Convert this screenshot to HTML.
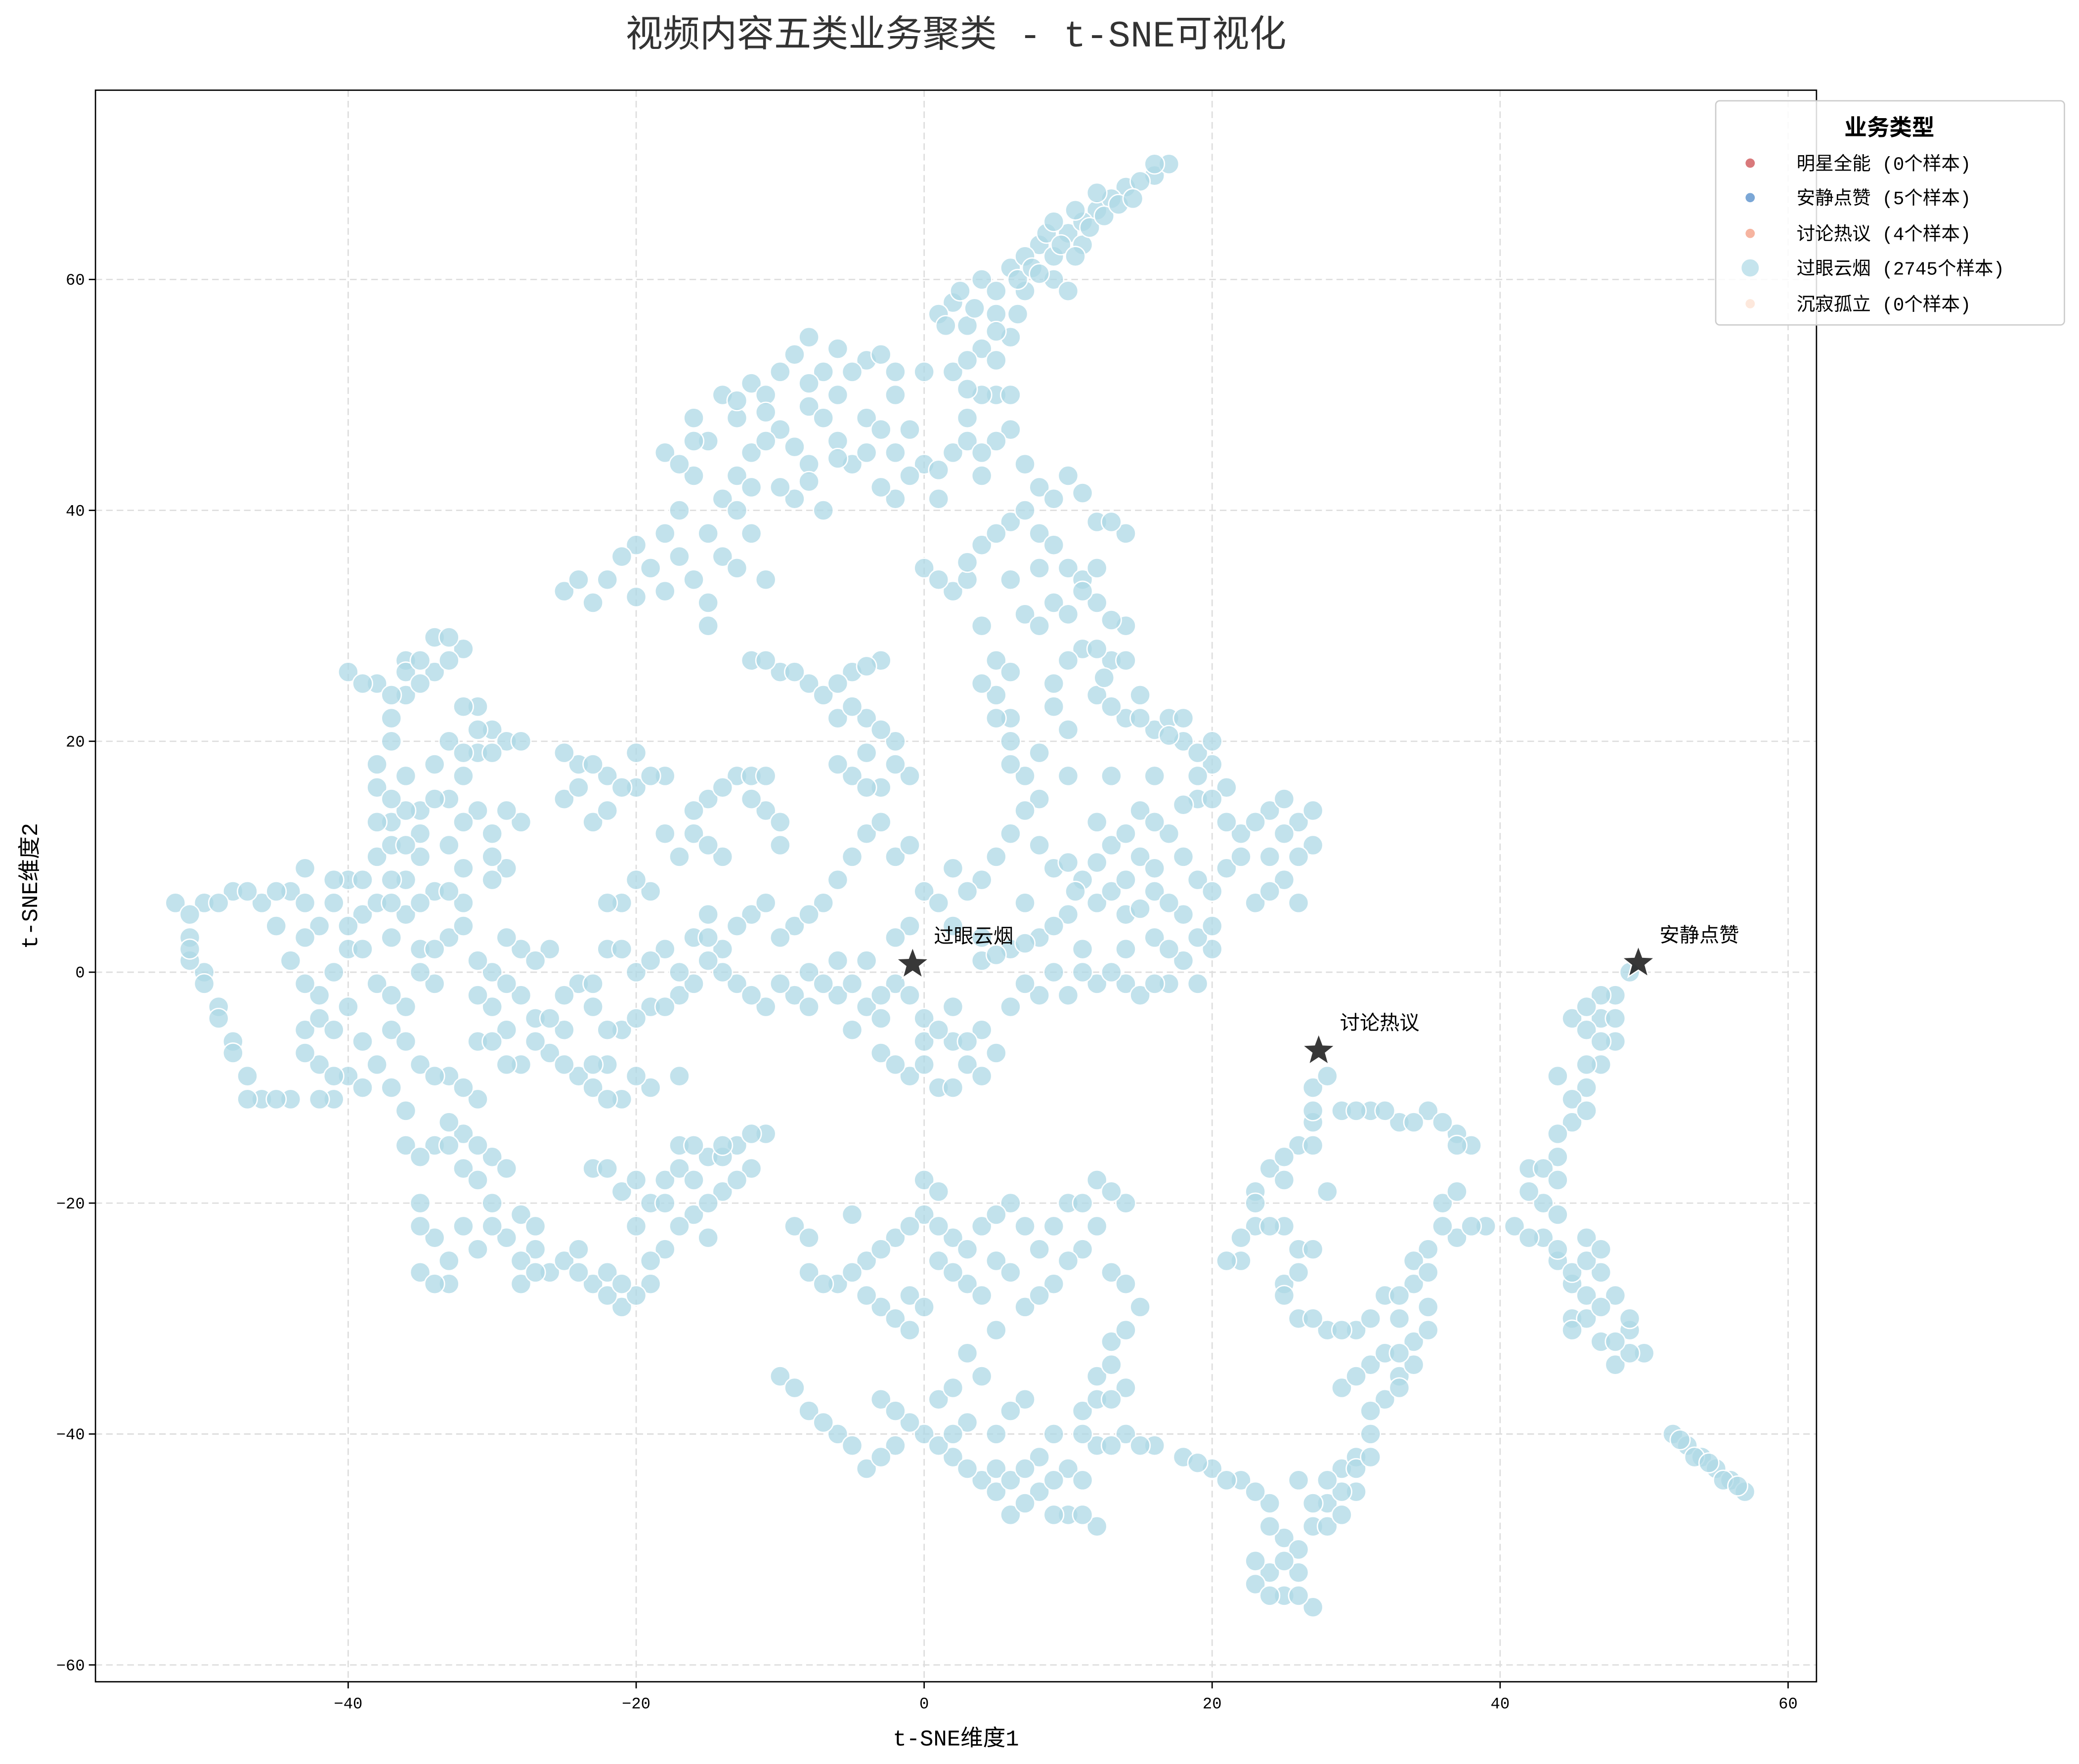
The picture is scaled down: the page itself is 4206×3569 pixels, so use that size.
<!DOCTYPE html>
<html><head><meta charset="utf-8">
<style>
html,body{margin:0;padding:0;background:#fff;}
svg{display:block;}
text{font-family:"Liberation Mono","WenQuanYi Zen Hei","Noto Sans CJK SC",monospace;}
</style></head>
<body>
<svg id="chart" width="4206" height="3569" viewBox="0 0 1568 1330" preserveAspectRatio="none" xmlns="http://www.w3.org/2000/svg">
<rect x="0" y="0" width="1568" height="1330" fill="#fff"/>
<text x="721" y="35" text-anchor="middle" font-size="28" fill="#333">视频内容五类业务聚类 - t-SNE可视化</text>
<g id="grid"></g>
<g id="points"></g>
<g id="stars"></g>
<rect x="72" y="68" width="1298" height="1200" fill="none" stroke="#000" stroke-width="1"/>
<g id="axes"></g>
<text x="721" y="1316" text-anchor="middle" font-size="17" fill="#000">t-SNE维度1</text>
<text transform="translate(28,668) rotate(-90)" text-anchor="middle" font-size="17" fill="#000">t-SNE维度2</text>
<g id="legend">
<rect x="1294" y="76" width="263" height="169" rx="3" fill="#fff" fill-opacity="0.85" stroke="#ccc"/>
<text x="1425" y="102" text-anchor="middle" font-size="17" font-weight="bold" fill="#000">业务类型</text>
<circle cx="1320" cy="123" r="3.5" fill="#d9797b"/>
<text x="1355" y="128" font-size="14">明星全能 (0个样本)</text>
<circle cx="1320" cy="149" r="3.5" fill="#7ba7d6"/>
<text x="1355" y="154" font-size="14">安静点赞 (5个样本)</text>
<circle cx="1320" cy="176" r="3.5" fill="#f6b4a0"/>
<text x="1355" y="181" font-size="14">讨论热议 (4个样本)</text>
<circle cx="1320" cy="202" r="7" fill="#add8e6" fill-opacity="0.7" stroke="#fff"/>
<text x="1355" y="207" font-size="14">过眼云烟 (2745个样本)</text>
<circle cx="1320" cy="229" r="3.5" fill="#fde8dc"/>
<text x="1355" y="234" font-size="14">沉寂孤立 (0个样本)</text>
</g>
</svg>
<script>
const xTicks=[-40,-20,0,20,40,60];
const yTicks=[-60,-40,-20,0,20,40,60];
const centroidNames=["过眼云烟","讨论热议","安静点赞"];
const centroidX=[-0.8,27.4,49.6];
const centroidY=[0.7,-6.8,0.8];
const ptsA=[[2,58],[4,60],[6,61],[8,63],[10,64],[12,66],[14,68],[16,69],[17,70],[3,56],[5,57],[7,59],[9,62],[11,65],[13,67],[9,60],[10,59],[4,54],[6,55],[15,68.5],[11,63],[1,57],[7,62],
[-8,55],[-6,54],[-4,53],[-2,52],[-10,52],[-12,51],[-14,50],[-16,48],[-18,45],[-16,43],[-14,41],[-12,45],[-10,47],[-8,44],[-6,46],[-4,48],[-2,45],[0,44],[2,45],[3,48],[5,50],[6,47],[4,43],[-9,41],[-7,40],[-12,38],[-14,36],[-16,34],[-20,37],[-22,34],[-25,33],[-18,38],[-11,34],[-15,30],[-2,41],[1,41],[-6,50],[-13,48],[-17,40],[-23,32],[-19,35],[-8,49],[2,52],[4,50],[6,50],
[0,35],[2,33],[4,37],[6,39],[8,42],[10,43],[12,39],[14,38],[8,38],[10,35],[12,32],[14,30],[13,27],[12,24],[14,22],[16,21],[18,20],[20,18],[19,15],[17,12],[15,14],[13,11],[11,8],[10,5],[8,3],[6,2],[4,1],[12,6],[14,5],[16,7],[18,5],[19,8],[21,9],[22,12],[24,14],[26,13],[27,11],[25,8],[23,6],[9,9],[11,2],[12,-1],[8,-2],[6,-3],[14,-1],[18,1],[16,3],[15,-2],[5,24],[6,20],[7,17],[8,15],[6,12],[4,8],[2,9],[0,7],[-1,4],[5,27],[10,21],[9,25],[11,28],[7,31],[9,32],[11,34],[17,22],[19,19],[21,16],[15,10],[20,2],[17,-1],[7,6],[3,34],[7,44],[6,22],[13,17],[16,17],[24,10],[26,6],[9,0]];
const ptsA2=[[2.5,59],[3.5,57.5],[5,59],[6.5,60],[7.5,61],[8.5,64],[9.5,63],[10.5,62],[11.5,64.5],[12.5,65.5],[13.5,66.5],[14.5,67],[16,70],[8,60.5],[5,55.5],[3,53],[1.5,56],[6.5,57],[9,65],[10.5,66],[12,67.5],
[-9,53.5],[-7,52],[-5,52],[-3,53.5],[-11,50],[-13,49.5],[-15,46],[-17,44],[-13,43],[-11,46],[-9,45.5],[-7,48],[-5,44],[-3,47],[-1,43],[1,43.5],[3,46],[5,46],[4,45],[-10,42],[-8,42.5],[-13,40],[-15,38],[-17,36],[-21,36],[-24,34],[-18,33],[-13,35],[-15,32],[-20,32.5],[-16,46],[-4,45],[-2,50],[0,52],[3,50.5],[5,53],[-8,51],[-11,48.5],[-6,44.5],[-1,47],[-3,42],[-12,42],
[1,34],[3,35.5],[5,38],[7,40],[9,41],[11,41.5],[13,39],[9,37],[11,33],[13,30.5],[12,28],[12.5,25.5],[13,23],[15,22],[17,20.5],[19,17],[18,14.5],[16,13],[14,12],[12,9.5],[10.5,7],[9,4],[7,2.5],[5,1.5],[13,7],[15,5.5],[17,6],[20,7],[22,10],[23,13],[25,12],[26,10],[24,7],[10,9.5],[11,0],[10,-2],[7,-1],[13,0],[17,2],[19,3],[16,-1],[5,22],[6,18],[7,14],[5,10],[3,7],[1,6],[4,25],[6,26],[9,23],[10,27],[8,30],[10,31],[12,35],[14,27],[15,24],[18,22],[20,20],[20,15],[18,10],[16,9],[14,8],[8,11],[8,19],[10,17],[12,13],[4,30],[6,34],[8,35],[14,2],[19,-1],[20,4],[21,13],[25,15],[27,14],[4,3],[2,4]];
const ptsB=[[-3,27],[-5,26],[-8,25],[-10,26],[-12,27],[-6,22],[-4,19],[-3,16],[-5,17],[-2,20],[-1,17],[-4,12],[-2,10],[-5,10],[-7,6],[-9,4],[-8,0],[-6,-2],[-4,-3],[-2,-1],[0,-4],[2,-6],[3,-8],[4,-5],[-3,-7],[-1,-9],[1,-10],[-9,-2],[-11,-3],[-13,-1],[-14,2],[-16,3],[-15,5],[-12,5],[-7,24],[-4,22],[0,-6],[-5,-5],[-3,-2],[2,-3],[5,-7],
[-14,10],[-16,12],[-15,15],[-13,17],[-11,14],[-17,10],[-18,17],[-20,16],[-22,17],[-24,18],[-25,15],[-23,13],[-19,7],[-21,6],[-22,2],[-20,0],[-18,2],[-17,-2],[-19,-3],[-21,-5],[-23,-3],[-24,-1],[-22,-8],[-24,-9],[-26,-7],[-27,-4],[-28,-2],[-26,2],[-28,2],[-30,0],[-30,-3],[-29,-5],[-31,-6],[-28,-8],[-19,-10],[-21,-11],[-12,15],[-10,11],[-20,19],[-16,-1],[-25,-5],[-23,-10],
[-29,9],[-28,13],[-30,12],[-31,14],[-33,15],[-35,14],[-37,13],[-38,10],[-36,8],[-34,7],[-32,6],[-33,3],[-35,2],[-34,-1],[-36,-3],[-38,-1],[-37,-5],[-35,-8],[-33,-9],[-31,-11],[-32,-14],[-34,-15],[-36,-15],[-37,-10],[-39,-6],[-40,-9],[-41,-11],[-42,-8],[-43,-5],[-42,-2],[-44,1],[-42,4],[-44,7],[-46,6],[-48,7],[-50,6],[-52,6],[-51,3],[-50,0],[-49,-3],[-48,-6],[-47,-9],[-46,-11],[-44,-11],[-40,-3],[-40,2],[-39,5],[-40,8],[-38,6],[-36,5],[-38,16],[-37,20],[-36,24],[-34,26],[-32,28],[-34,29],[-36,27],[-38,25],[-40,26],[-31,23],[-30,21],[-29,20],[-31,19],[-33,20],[-32,17],[-35,10],[-43,9],[-41,6],[-45,4],[-51,1],[-37,3],[-33,11],[-36,17],[-30,8]];
const ptsB2=[[-4,26.5],[-6,25],[-9,26],[-11,27],[-5,23],[-3,21],[-2,18],[-4,16],[-6,18],[-3,13],[-1,11],[-6,8],[-8,5],[-10,3],[-7,-1],[-5,-1],[-3,-4],[-1,-2],[1,-5],[3,-6],[-2,-8],[0,-8],[2,-10],[-10,-1],[-12,-2],[-14,0],[-15,3],[-13,4],[-11,6],[-6,1],[-4,1],[-2,3],[4,-9],[-8,-3],
[-15,11],[-16,14],[-14,16],[-12,17],[-10,13],[-18,12],[-19,17],[-21,16],[-23,18],[-25,19],[-24,16],[-22,14],[-20,8],[-22,6],[-21,2],[-19,1],[-17,0],[-18,-3],[-20,-4],[-22,-5],[-23,-1],[-25,-2],[-23,-8],[-25,-8],[-27,-6],[-26,-4],[-29,-1],[-27,1],[-29,3],[-31,1],[-31,-2],[-30,-6],[-29,-8],[-20,-9],[-22,-11],[-17,-9],[-15,1],[-11,17],
[-30,10],[-29,14],[-32,13],[-34,15],[-36,14],[-37,11],[-37,8],[-35,6],[-33,7],[-32,4],[-34,2],[-35,0],[-37,-2],[-36,-6],[-34,-9],[-32,-10],[-33,-13],[-35,-16],[-36,-12],[-38,-8],[-39,-10],[-41,-9],[-42,-11],[-43,-7],[-42,-4],[-43,-1],[-43,3],[-43,6],[-45,7],[-47,7],[-49,6],[-51,5],[-51,2],[-50,-1],[-49,-4],[-48,-7],[-47,-11],[-45,-11],[-41,-5],[-41,0],[-40,4],[-39,8],[-41,8],[-37,6],[-37,15],[-38,18],[-37,22],[-36,26],[-35,27],[-33,27],[-33,29],[-35,25],[-37,24],[-39,25],[-32,23],[-31,21],[-28,20],[-30,19],[-32,19],[-34,18],[-35,12],[-38,13],[-36,11],[-32,9],[-39,2]];
const ptsC=[[-35,-20],[-34,-23],[-35,-26],[-33,-27],[-31,-24],[-29,-23],[-30,-20],[-32,-17],[-30,-16],[-28,-21],[-27,-24],[-26,-26],[-28,-27],[-25,-25],[-24,-24],[-23,-27],[-21,-29],[-19,-27],[-18,-24],[-20,-22],[-21,-19],[-23,-17],[-18,-18],[-17,-15],[-15,-16],[-13,-15],[-11,-14],[-12,-17],[-14,-19],[-16,-21],[-15,-23],[-19,-20],[-33,-15],[-22,-26],
[-9,-22],[-8,-26],[-6,-27],[-4,-25],[-2,-23],[0,-21],[2,-23],[4,-22],[6,-20],[5,-25],[3,-27],[1,-25],[-1,-28],[-3,-29],[-5,-21],[8,-24],[10,-20],[12,-18],[14,-20],[11,-24],[9,-27],[7,-29],[13,-26],[15,-29],[13,-32],[12,-35],[11,-38],[12,-41],[10,-43],[8,-45],[6,-47],[4,-44],[2,-42],[0,-40],[-2,-41],[-4,-43],[-6,-40],[-8,-38],[-10,-35],[-3,-37],[1,-37],[3,-33],[5,-31],[7,-37],[9,-40],[10,-47],[12,-48],[14,-40],[16,-41],[14,-36],[5,-43],[0,-18],[-2,-30],[3,-39],
[18,-42],[20,-43],[22,-44],[24,-46],[25,-49],[24,-52],[25,-54],[27,-55],[26,-52],[27,-48],[28,-46],[29,-43],[30,-42],[31,-40],[32,-37],[33,-35],[34,-32],[35,-29],[34,-27],[32,-28],[30,-31],[28,-31],[26,-30],[25,-27],[26,-24],[25,-22],[23,-22],[22,-25],[21,-25],[23,-19],[24,-17],[26,-15],[27,-13],[27,-10],[28,-9],[29,-12],[31,-12],[33,-13],[35,-12],[37,-14],[38,-15],[36,-20],[37,-23],[39,-22],[35,-24],[34,-25],[28,-19],[27,-24],[33,-30],[31,-34],[29,-36],[32,-33],[30,-45],[28,-48],[23,-53],[26,-44],
[41,-22],[43,-23],[42,-17],[44,-16],[45,-13],[46,-10],[44,-9],[47,-8],[48,-6],[47,-4],[48,-2],[49,0],[45,-4],[46,-5],[43,-20],[44,-25],[45,-27],[45,-30],[46,-30],[47,-26],[48,-28],[49,-31],[50,-33],[48,-34],[47,-32],[46,-23],[52,-40],[53,-41],[54,-42],[55,-43],[56,-44],[57,-45]];
const ptsC2=[[-35,-22],[-33,-25],[-34,-27],[-32,-22],[-30,-22],[-31,-18],[-29,-17],[-27,-22],[-28,-25],[-27,-26],[-24,-26],[-22,-28],[-20,-28],[-19,-25],[-20,-18],[-22,-17],[-17,-17],[-16,-15],[-14,-16],[-12,-14],[-13,-18],[-15,-20],[-17,-22],[-18,-20],[-16,-18],[-14,-15],[-31,-15],[-21,-27],
[-8,-23],[-7,-27],[-5,-26],[-3,-24],[-1,-22],[1,-22],[3,-24],[5,-21],[7,-22],[6,-26],[4,-28],[2,-26],[0,-29],[-4,-28],[9,-22],[11,-20],[13,-19],[12,-22],[10,-25],[8,-28],[14,-27],[14,-31],[13,-34],[12,-37],[11,-40],[11,-44],[9,-44],[7,-46],[5,-45],[3,-43],[1,-41],[-1,-39],[-3,-42],[-5,-41],[-7,-39],[-9,-36],[-2,-38],[2,-36],[4,-35],[6,-38],[8,-42],[9,-47],[11,-47],[13,-41],[15,-41],[13,-37],[6,-44],[1,-19],[-1,-31],[2,-40],[5,-40],[7,-43],
[19,-42.5],[21,-44],[23,-45],[24,-48],[23,-51],[24,-54],[26,-54],[26,-50],[27,-46],[29,-45],[30,-43],[31,-42],[31,-38],[33,-36],[34,-34],[35,-31],[33,-28],[31,-30],[29,-31],[27,-30],[25,-28],[26,-26],[24,-22],[22,-23],[23,-20],[25,-18],[25,-16],[27,-15],[27,-12],[30,-12],[32,-12],[34,-13],[36,-13],[37,-15],[36,-22],[38,-22],[35,-26],[33,-33],[30,-35],[29,-47],[28,-44],[25,-51],[37,-19]];
const ptsD2=[[42,-23],[42,-19],[43,-17],[44,-14],[45,-11],[46,-8],[47,-6],[47,-2],[48,-4],[46,-3],[44,-24],[45,-26],[46,-28],[45,-31],[47,-29],[49,-30],[49,-33],[48,-32],[46,-25],[47,-24],[44,-21],[52.5,-40.5],[53.5,-42],[54.5,-42.5],[55.5,-44],[56.5,-44.5],[44,-18],[46,-12]];
const NS="http://www.w3.org/2000/svg";
const X0=72,X1=1370,Y0=68,Y1=1268;
function sx(v){return 697+v*10.86;}
function sy(v){return 733-v*8.705;}
function mk(t,a){const e=document.createElementNS(NS,t);for(const k in a)e.setAttribute(k,a[k]);return e;}
const grid=document.getElementById('grid'),axes=document.getElementById('axes');
xTicks.forEach(t=>{const x=sx(t);
 const g=mk('line',{x1:x,x2:x,y1:Y0,y2:Y1,stroke:'#ddd','stroke-dasharray':'5,3','stroke-width':1});
 
 
 grid.appendChild(g);
 const tk=mk('line',{x1:x,x2:x,y1:Y1,y2:Y1+5,stroke:'#000'});
 
 
 axes.appendChild(tk);
 const tx=mk('text',{x:x,y:Y1+20,'text-anchor':'middle','font-size':12});tx.textContent=String(t).replace('-','−');
 
 
 axes.appendChild(tx);});
yTicks.forEach(t=>{const y=sy(t);
 const g=mk('line',{x1:X0,x2:X1,y1:y,y2:y,stroke:'#ddd','stroke-dasharray':'5,3','stroke-width':1});
 
 
 grid.appendChild(g);
 const tk=mk('line',{x1:X0-5,x2:X0,y1:y,y2:y,stroke:'#000'});
 
 
 axes.appendChild(tk);
 const tx=mk('text',{x:X0-8,y:y+4,'text-anchor':'end','font-size':12});tx.textContent=String(t).replace('-','−');
 
 
 axes.appendChild(tx);});
const pg=document.getElementById('points');
ptsA.concat(ptsA2,ptsB,ptsB2,ptsC,ptsC2,ptsD2).forEach(p=>{
 const c=mk('circle',{cx:sx(p[0]),cy:sy(p[1]),r:7.5,fill:'#add8e6','fill-opacity':0.75,stroke:'#fff','stroke-width':1});
 
 
 pg.appendChild(c);});
const sg=document.getElementById('stars');
function starPath(cx,cy,R){const r=R*0.42;let d='';for(let i=0;i<10;i++){const a=-Math.PI/2+i*Math.PI/5;const rr=i%2?r:R;d+=(i?'L':'M')+(cx+rr*Math.cos(a)).toFixed(2)+','+(cy+rr*Math.sin(a)).toFixed(2);}return d+'Z';}
centroidNames.forEach((n,i)=>{const x=sx(centroidX[i]),y=sy(centroidY[i]);
 const s=mk('path',{d:starPath(x,y,13),fill:'#222','fill-opacity':0.9,stroke:'#fff','stroke-width':1});
 
 
 sg.appendChild(s);
 const t=mk('text',{x:x+16,y:y-16,'font-size':15,fill:'#000'});t.textContent=n;
 
 
 sg.appendChild(t);});
</script>
</body></html>
